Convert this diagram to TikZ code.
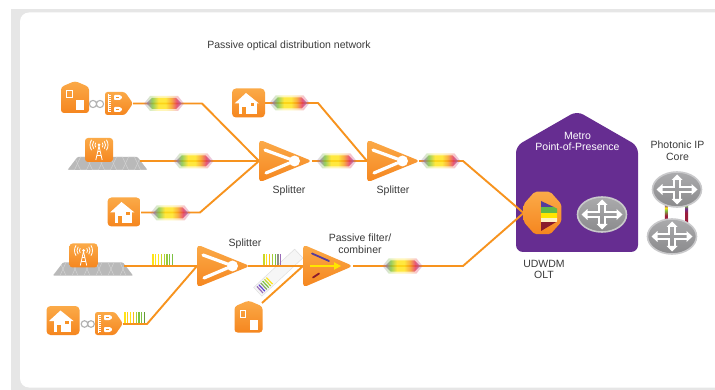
\documentclass[tikz,border=0pt]{standalone}
\usepackage{fontspec}
\setmainfont{Liberation Sans}

% palette
\definecolor{orA}{HTML}{FBAA48}
\definecolor{orB}{HTML}{F5861F}
\definecolor{orLine}{HTML}{F7931E}
\definecolor{orDoor}{HTML}{F79226}
\definecolor{popPurple}{HTML}{662D91}
\definecolor{txt}{HTML}{3A3A3A}
\definecolor{frameGray}{HTML}{E6E6E6}
\definecolor{spPurple}{HTML}{9A6CB8}
\definecolor{spGreen}{HTML}{7DC242}
\definecolor{spYellow}{HTML}{FFE417}
\definecolor{spOrange}{HTML}{F9A01B}
\definecolor{spRed}{HTML}{E2335C}
\definecolor{lkRed}{HTML}{9B1D3B}
\definecolor{lkPurple}{HTML}{6E2E8E}
\definecolor{flPurple}{HTML}{553B9C}
\definecolor{flGreen}{HTML}{62B847}
\definecolor{flYellow}{HTML}{FFE500}
\definecolor{flPale}{HTML}{FFF1C4}
\definecolor{flRed}{HTML}{8A1A2C}
\definecolor{rtTop}{HTML}{ABABAD}
\definecolor{rtBot}{HTML}{8A8A8C}
\definecolor{rtRim}{HTML}{C9C9CB}

% wavelength comb and fibre-pair shadings
\pgfdeclarehorizontalshading{rainbow}{100bp}{color(0bp)=(spPurple); color(25bp)=(spPurple);
  color(33bp)=(spGreen); color(42bp)=(spYellow); color(52bp)=(spYellow); color(60bp)=(spOrange);
  color(68bp)=(spRed); color(75bp)=(spPurple); color(100bp)=(spPurple)}
\pgfdeclareverticalshading{linkL}{100bp}{color(0bp)=(lkRed); color(25bp)=(lkRed); color(45bp)=(lkRed);
  color(55bp)=(spGreen); color(60bp)=(spYellow); color(66bp)=(lkPurple); color(75bp)=(lkPurple); color(100bp)=(lkPurple)}
\pgfdeclareverticalshading{linkR}{100bp}{color(0bp)=(spGreen); color(25bp)=(spGreen); color(32bp)=(lkRed);
  color(55bp)=(lkRed); color(64bp)=(lkPurple); color(70bp)=(spGreen); color(75bp)=(spGreen); color(100bp)=(spGreen)}

\newcommand\lblfont{\fontsize{10.5}{11.5}\selectfont}

\tikzset{
  fiber/.style={draw=orLine, line width=1.9pt, line join=round},
  lbl/.style={font=\lblfont, text=txt, inner sep=0pt, align=center},
  orfill/.style={top color=orA, bottom color=orB},
  linkring/.style={draw=gray!60, line width=1.1pt},
  % optical splitter
  splitter/.pic={
    \shade[orfill, rounded corners=4pt] (0,-21.5) -- (53,0) -- (0,21.5) -- cycle;
    \draw[white, line width=3.2pt, line cap=round] (6,-11) -- (30,-2.2);
    \draw[white, line width=3.2pt, line cap=round] (7,12) -- (30,2.2);
    \fill[white] (35.5,0) circle (5.5);
  },
  % passive wavelength filter / combiner
  filterbox/.pic={
    \shade[orfill, rounded corners=4pt] (0,-21.5) -- (50,0) -- (0,21.5) -- cycle;
    \draw[flPurple, line width=1.8pt, line cap=round] (9,-12.5) -- (26,-5);
    \draw[flYellow, line width=1.8pt] (7,0) -- (32,0);
    \fill[flYellow] (31,-3.8) -- (38,0) -- (31,3.8) -- cycle;
    \draw[flRed, line width=1.8pt, line cap=round] (10,11.5) -- (16,7.5);
  },
  % home in a rounded tile
  homebox/.pic={
    \shade[orfill, rounded corners=4pt] (-16.5,-14.5) rectangle (16.5,14.5);
    \fill[white] (-14,0.5) -- (-2.5,-10) -- (10.5,0.5) -- cycle;
    \fill[white] (-9.5,-1) rectangle (8,11.5);
    \fill[orDoor] (-6.5,4) rectangle (-2.5,11.5);
    \fill[orDoor] (2,0.5) rectangle (5.5,3.5);
  },
  % gabled building
  gablehouse/.pic={
    \shade[orfill, rounded corners=3pt] (-14,-10) -- (0,-16) -- (14,-10) -- (14,16) -- (-14,16) -- cycle;
    \draw[white, line width=0.9pt] (-8.5,-6.5) rectangle (-3,0.5);
    \fill[white] (1,3.5) rectangle (9,13.5);
  },
  % optical network terminal
  ont/.pic={
    \shade[orfill, rounded corners=2.5pt] (0,-11.5) -- (20,-11.5) -- (28,0) -- (20,11.5) -- (0,11.5) -- cycle;
    \draw[white, line width=0.7pt] (3.5,-9) -- (3.5,9);
    \foreach \k in {-8,-6,...,8} \draw[white, line width=0.6pt] (3.5,\k) -- (5.5,\k);
    \fill[white, rounded corners=0.8pt] (9,-8.5) -- (15,-8.5) -- (17.5,-6) -- (15,-3.5) -- (9,-3.5) -- cycle;
    \fill[white, rounded corners=0.8pt] (9,3.5) -- (15,3.5) -- (17.5,6) -- (15,8.5) -- (9,8.5) -- cycle;
    \fill[orDoor] (11,-6.8) rectangle (13.5,-5.2);
    \fill[orDoor] (11,5.2) rectangle (13.5,6.8);
  },
  % radio mast tile
  towerbox/.pic={
    \shade[orfill, rounded corners=3pt] (-14,-12) rectangle (14,12);
    \begin{scope}[white, line width=0.8pt]
      \draw (-3.2,10) -- (0,-4) -- (3.2,10);
      \draw (-2.2,5.5) -- (2.2,5.5) (-1.4,1.5) -- (1.4,1.5);
      \fill (0,-5) circle (1.5);
      \foreach \r in {4,6.5,9} {
        \draw (0,-5) ++(145:\r) arc (145:215:\r);
        \draw (0,-5) ++(-35:\r) arc (-35:35:\r);
      }
    \end{scope}
  },
  % cell-site ground plate
  platform/.pic={
    \fill[gray!55, rounded corners=1pt] (-30,-6.5) -- (30,-6.5) -- (40,6.5) -- (-40,6.5) -- cycle;
    \begin{scope}
      \clip (-30,-6.5) -- (30,-6.5) -- (40,6.5) -- (-40,6.5) -- cycle;
      \foreach \i in {-4,...,4}
        \draw[gray!35, line width=0.5pt] (\i*12-6,0) -- (\i*12-3,-6.5) -- (\i*12+3,-6.5) -- (\i*12+6,0) -- (\i*12+3,6.5) -- (\i*12-3,6.5) -- cycle;
    \end{scope}
  },
  % router disc
  router/.pic={
    \shade[top color=rtTop, bottom color=rtBot, draw=rtRim, line width=1.6pt] (0,0) ellipse (24.5 and 17.5);
    \begin{scope}[white, line width=2.2pt]
      \draw (-15,-2.6) -- (-3,-2.6) -- (-3,-10);
      \draw (15,-2.6) -- (3,-2.6) -- (3,-10);
      \draw (-15,2.6) -- (-3,2.6) -- (-3,10);
      \draw (15,2.6) -- (3,2.6) -- (3,10);
      \fill (-5.5,-9.5) -- (0,-15) -- (5.5,-9.5) -- cycle;
      \fill (-5.5,9.5) -- (0,15) -- (5.5,9.5) -- cycle;
      \fill (-14.5,-5.5) -- (-20.5,0) -- (-14.5,5.5) -- cycle;
      \fill (14.5,-5.5) -- (20.5,0) -- (14.5,5.5) -- cycle;
    \end{scope}
  },
  % dense wavelength comb
  spectrum/.pic={
    \shade[shading=rainbow, opacity=0.3] (-20,0) -- (-14,-7.5) -- (14,-7.5) -- (20,0) -- (14,7.5) -- (-14,7.5) -- cycle;
    \shade[shading=rainbow, opacity=0.75] (-17.5,0) -- (-12,-5.5) -- (12,-5.5) -- (17.5,0) -- (12,5.5) -- (-12,5.5) -- cycle;
  },
  % coarse wavelength bars
  pics/bars/.style={code={
    \foreach \c [count=\bi from 0] in {#1}
      \draw[line width=1.3pt, color=\c] (\bi*2.8,0) -- (\bi*2.8,-11);
  }},
  % OLT octagon
  oltbox/.pic={
    \shade[orfill, rounded corners=2pt] (18.9,8.8) -- (7.85,21.25) -- (-7.85,21.25) -- (-18.9,8.8)
      -- (-18.9,-8.8) -- (-7.85,-21.25) -- (7.85,-21.25) -- (18.9,-8.8) -- cycle;
    \begin{scope}
      \clip (-1.5,-12) -- (14.5,-4.5) -- (14.5,8.5) -- (-1.5,18) -- cycle;
      \fill[flPurple] (-2,-13) rectangle (15,-5.5);
      \fill[flGreen] (-2,-5.5) rectangle (15,0.5);
      \fill[flYellow] (-2,0.5) rectangle (15,5.5);
      \fill[flPale] (-2,5.5) rectangle (15,9);
      \fill[flRed] (-2,9) rectangle (15,19);
    \end{scope}
  },
}

\begin{document}
\begin{tikzpicture}[x=1pt,y=-1pt]
\useasboundingbox (0,0) rectangle (715,390);

% panel
\fill[frameGray] (11,9) rectangle (715,390);
\fill[white, rounded corners=9pt] (20,12.5) rectangle (735,387.5);

% connection points
\coordinate (ont1) at (133,103.5);
\coordinate (b1) at (202,103.5);
\coordinate (sp1in) at (259,161);
\coordinate (tw1) at (140,161);
\coordinate (h3) at (141,212.5);
\coordinate (b2) at (200,212.5);
\coordinate (sp1out) at (312,161);
\coordinate (sp2in) at (367,161);
\coordinate (h2) at (265,103);
\coordinate (b3) at (318,103);
\coordinate (sp2out) at (419,161);
\coordinate (b4) at (463,161);
\coordinate (oltin) at (523.6,213);
\coordinate (tw2) at (124,266);
\coordinate (sp3in) at (197,266);
\coordinate (ont2) at (123,324);
\coordinate (b5) at (147,324);
\coordinate (sp3out) at (248,266);
\coordinate (pfin) at (303,266);
\coordinate (h4) at (262,303);
\coordinate (pfout) at (353,266);
\coordinate (b6) at (463,266);
\coordinate (olt) at (542.5,213);
\coordinate (lkA1) at (664.8,200);
\coordinate (lkA2) at (667.4,226);
\coordinate (lkB1) at (685.6,203);
\coordinate (lkB2) at (688.2,228);

% metro point-of-presence building
\fill[popPurple, rounded corners=7pt] (516,146) -- (577,111) -- (638,146) -- (638,252) -- (516,252) -- cycle;

% cell-site plates
\pic at (107.5,163.5) {platform};
\pic at (93,269) {platform};

% tilted wavelength band behind the combiner
\begin{scope}[shift={(279,272)}, rotate=43]
  \fill[gray!7, draw=gray!25, line width=0.5pt] (-29,-6) rectangle (27,6);
  \foreach \c [count=\bi from 0] in {spPurple,spPurple!60!blue,spGreen!70!spPurple,spGreen,spGreen!50!spYellow,spYellow}
    \draw[line width=1.2pt, color=\c] (-26+\bi*2.6,-4.5) -- (-26+\bi*2.6,4.5);
\end{scope}

% fibres
\draw[fiber] (ont1) -- (b1) -- (sp1in);
\draw[fiber] (tw1) -- (sp1in);
\draw[fiber] (h3) -- (b2) -- (sp1in);
\draw[fiber] (sp1out) -- (sp2in);
\draw[fiber] (h2) -- (b3) -- (sp2in);
\draw[fiber] (sp2out) -- (b4) -- (oltin);
\draw[fiber] (tw2) -- (sp3in);
\draw[fiber] (ont2) -- (b5) -- (sp3in);
\draw[fiber] (sp3out) -- (pfin);
\draw[fiber] (h4) -- (pfin);
\draw[fiber] (pfout) -- (b6) -- (oltin);

% subscribers
\pic at (75,97) {gablehouse};
\draw[linkring] (93,104) circle (3.6) (100,104) circle (3.6);
\pic at (105,103.5) {ont};
\pic at (99,150) {towerbox};
\pic at (124,212) {homebox};
\pic at (248.5,103) {homebox};
\pic at (83.5,255.5) {towerbox};
\pic at (63,320.5) {homebox};
\draw[linkring] (84.5,324) circle (3.3) (91,324) circle (3.3);
\pic at (95,323.5) {ont};
\pic at (248.5,316.5) {gablehouse};

% splitters and combiner
\pic at (sp1in) {splitter};
\pic at (sp2in) {splitter};
\pic at (sp3in) {splitter};
\pic at (pfin) {filterbox};

% wavelength combs on the fibres
\pic at (164,103.5) {spectrum};
\pic at (193.5,161) {spectrum};
\pic at (170.5,213) {spectrum};
\pic at (289.5,103) {spectrum};
\pic at (336.5,161) {spectrum};
\pic at (440.5,161) {spectrum};
\pic at (402.5,266) {spectrum};
\pic at (153,265) {bars={spYellow,spYellow,spYellow,spYellow!60!spGreen,spYellow!40!spGreen,spGreen!80!spYellow,spGreen,spGreen}};
\pic at (125,323) {bars={spYellow,spYellow!70!spOrange,spYellow,spOrange!60!spYellow,spGreen!60!spYellow,spGreen,spGreen,spGreen!80!black}};
\pic at (264,265) {bars={spYellow!60!spGreen,spYellow,spYellow!50!spOrange,spGreen!70!spYellow,spGreen,spPurple!60!spGreen,spPurple}};

% UDWDM OLT
\pic at (olt) {oltbox};

% photonic core links and routers
\shade[shading=linkL] (lkA1) rectangle (lkA2);
\shade[shading=linkR] (lkB1) rectangle (lkB2);
\pic at (602,214.5) {router};
\pic at (677,189.5) {router};
\pic at (672,236.5) {router};

% labels
\node[lbl] (ttl) at (289,45.5) {Passive optical distribution network};
\node[lbl] (lsp1) at (289,190.5) {Splitter};
\node[lbl] (lsp2) at (393,190.5) {Splitter};
\node[lbl] (lsp3) at (245,243.5) {Splitter};
\node[lbl] (lpf) at (360,243.5) {Passive filter/\\combiner};
\node[lbl, text=white] (lpop) at (577.5,141.5) {Metro\\Point-of-Presence};
\node[lbl] (lcore) at (677.5,150.5) {Photonic IP\\Core};
\node[lbl] (lolt) at (544,269.5) {UDWDM\\OLT};
\end{tikzpicture}
\end{document}
